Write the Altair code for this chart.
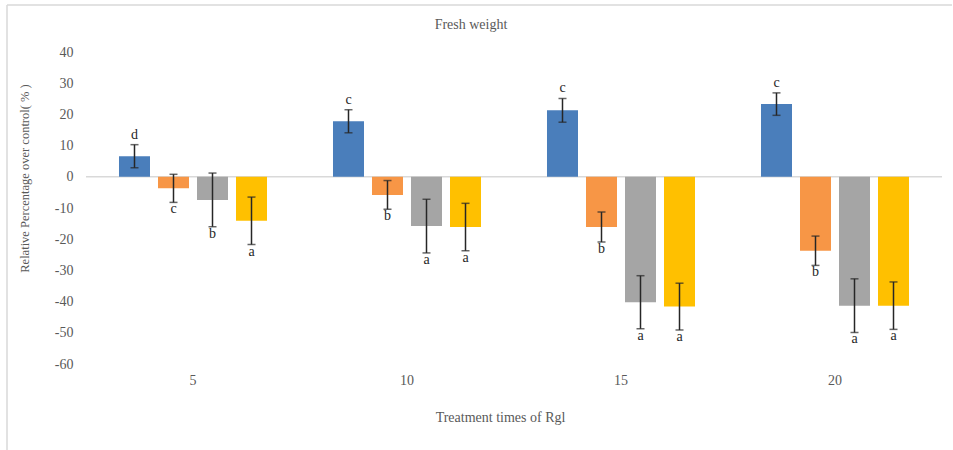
import altair as alt
import pandas as pd

# Treatment times (x categories) and the four treatment series
times = ["5", "10", "15", "20"]
series = ["T1", "T2", "T3", "T4"]
colors = ["#4a7ebb", "#f79646", "#a5a5a5", "#ffc000"]

# Relative percentage over control (%) per series, one value per treatment time
t1_mean = [6.6, 17.8, 21.3, 23.3]
t2_mean = [-3.7, -5.8, -16.1, -23.7]
t3_mean = [-7.4, -15.8, -40.2, -41.3]
t4_mean = [-14.1, -16.1, -41.6, -41.3]

# Error bar half-lengths
t1_err = [3.7, 3.7, 3.8, 3.6]
t2_err = [4.5, 4.6, 4.8, 4.7]
t3_err = [8.6, 8.6, 8.5, 8.6]
t4_err = [7.6, 7.6, 7.5, 7.6]

# Significance letters
t1_sig = ["d", "c", "c", "c"]
t2_sig = ["c", "b", "b", "b"]
t3_sig = ["b", "a", "a", "a"]
t4_sig = ["a", "a", "a", "a"]

# Y axis tick values
y_ticks = [-60, -50, -40, -30, -20, -10, 0, 10, 20, 30, 40]

means = [t1_mean, t2_mean, t3_mean, t4_mean]
errs = [t1_err, t2_err, t3_err, t4_err]
sigs = [t1_sig, t2_sig, t3_sig, t4_sig]

rows = []
for s, m, e, g in zip(series, means, errs, sigs):
    for t, mv, ev, gv in zip(times, m, e, g):
        rows.append({
            "time": t, "series": s, "value": mv,
            "lo": mv - ev, "hi": mv + ev, "sig": gv,
            "tip": mv + ev if mv >= 0 else mv - ev,
        })
df = pd.DataFrame(rows)

FONT = "Liberation Serif"
GREY = "#595959"
INK = "#262626"

x_axis = alt.Axis(domain=False, ticks=False, labelAngle=0, labelPadding=9,
                  labelFont=FONT, labelFontSize=14, labelColor=GREY,
                  title="Treatment times of Rgl", titleFont=FONT,
                  titleFontSize=14, titleFontWeight="normal", titleColor=GREY,
                  titleX=414, titleY=53, titleBaseline="middle")
y_axis = alt.Axis(values=y_ticks, grid=False, domain=False,
                  ticks=False, labelPadding=13, labelFont=FONT, labelFontSize=14,
                  labelColor=GREY, labelOverlap=False,
                  labelExpr="toString(datum.value)",
                  title="Relative Percentage over control( % )",
                  titleFont=FONT, titleFontSize=12.5, titleFontWeight="normal",
                  titleColor=GREY, titleX=-62, titleY=126,
                  titleBaseline="middle")

x_scale = alt.Scale(domain=times, paddingInner=0, paddingOuter=0)
y_scale = alt.Scale(domain=[-60, 40], nice=False)


def xe():
    return alt.X("time:N", sort=times, scale=x_scale, axis=x_axis)


def ye(field):
    return alt.Y(field, scale=y_scale, axis=y_axis)


xo_enc = alt.XOffset("series:N", sort=series,
                     scale=alt.Scale(paddingInner=0.205, paddingOuter=0.846))

base = alt.Chart(df)

bars = base.mark_bar().encode(
    x=xe(), xOffset=xo_enc, y=ye("value:Q"),
    color=alt.Color("series:N", sort=series,
                    scale=alt.Scale(domain=series, range=colors), legend=None),
)

zero = alt.Chart(pd.DataFrame({"v": [0]})).mark_rule(
    color="#d9d9d9", strokeWidth=1.5).encode(y=ye("v:Q"))

whisker = base.mark_rule(color=INK, strokeWidth=1.5).encode(
    x=xe(), xOffset=xo_enc, y=ye("lo:Q"), y2="hi:Q")
cap_hi = base.mark_tick(color=INK, size=8, thickness=1.5, orient="horizontal").encode(
    x=xe(), xOffset=xo_enc, y=ye("hi:Q"))
cap_lo = base.mark_tick(color=INK, size=8, thickness=1.5, orient="horizontal").encode(
    x=xe(), xOffset=xo_enc, y=ye("lo:Q"))

sig_up = base.transform_filter("datum.value >= 0").mark_text(
    font=FONT, fontSize=14, color=INK, baseline="middle", dy=-10).encode(
    x=xe(), xOffset=xo_enc, y=ye("tip:Q"), text="sig:N")
sig_dn = base.transform_filter("datum.value < 0").mark_text(
    font=FONT, fontSize=14, color=INK, baseline="middle", dy=7).encode(
    x=xe(), xOffset=xo_enc, y=ye("tip:Q"), text="sig:N")

# Thin frame along the top and left edges of the chart area
frame_top = alt.Chart(pd.DataFrame({"k": [0]})).mark_rule(
    color="#d9d9d9", strokeWidth=1.5).encode(
    x=alt.value(-79), x2=alt.value(866), y=alt.value(-47))
frame_left = alt.Chart(pd.DataFrame({"k": [0]})).mark_rule(
    color="#d9d9d9", strokeWidth=1.5).encode(
    x=alt.value(-79), y=alt.value(-47), y2=alt.value(398))

chart = alt.layer(
    zero, bars, whisker, cap_hi, cap_lo, sig_up, sig_dn, frame_top, frame_left
).properties(
    width=856, height=312,
    background="white",
    title=alt.TitleParams("Fresh weight", font=FONT, fontSize=14, fontWeight="normal",
                          color=GREY, anchor="middle", dx=-43, offset=-28),
    autosize=alt.AutoSizeParams(type="none"),
    padding={"left": 86, "top": 52, "right": 11, "bottom": 86},
).configure_view(stroke="transparent", strokeWidth=0)

chart.save("out.html", embed_options={"renderer": "svg", "actions": False})
